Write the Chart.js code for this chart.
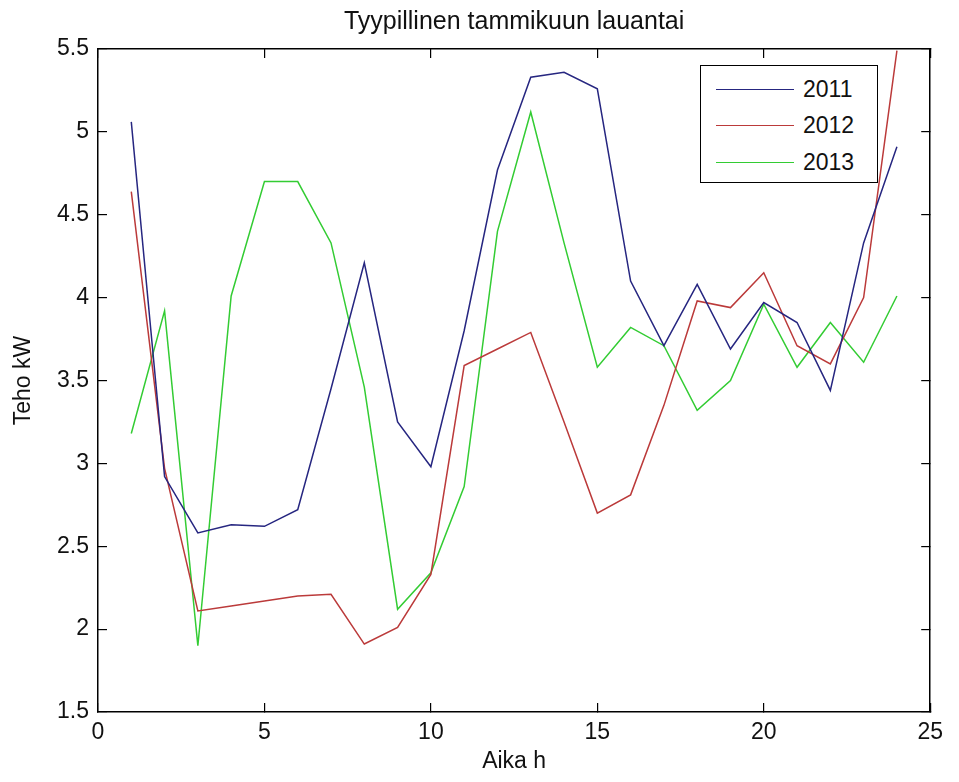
<!DOCTYPE html>
<html lang="fi">
<head>
<meta charset="utf-8">
<title>Tyypillinen tammikuun lauantai</title>
<script src="https://cdn.jsdelivr.net/npm/chart.js@4.4.0/dist/chart.umd.min.js"></script>
<style>
    body { margin: 0; background: #fff; }
    #wrap { position: relative; width: 959px; height: 782px; }
    #legend {
        position: absolute; left: 700px; top: 65px; width: 176px; height: 116px;
        border: 1.5px solid #000; background: #fff;
        font-family: "Liberation Sans", Arial, sans-serif; font-size: 23px; color: #111;
    }
    #legend .row { position: absolute; left: 0; height: 28px; display: flex; align-items: center; }
    #legend .swatch { display: inline-block; margin-left: 15px; width: 78px; height: 0; border-top: 1.5px solid; }
    #legend .label { margin-left: 9px; }
</style>
</head>
<body>
<div id="wrap">
    <canvas id="lineChart" width="959" height="782"></canvas>
    <div id="legend"></div>
</div>
<script>
    // Aika h (tunti)
    const hours = [1, 2, 3, 4, 5, 6, 7, 8, 9, 10, 11, 12, 13, 14, 15, 16, 17, 18, 19, 20, 21, 22, 23, 24];

    // Teho kW
    const teho2011 = [5.06, 2.92, 2.58, 2.63, 2.62, 2.72, 3.45, 4.21, 3.25, 2.98, 3.80, 4.77,
        5.33, 5.36, 5.26, 4.10, 3.71, 4.08, 3.69, 3.97, 3.85, 3.44, 4.33, 4.91];
    const teho2012 = [4.64, 2.97, 2.11, 2.14, 2.17, 2.20, 2.21, 1.91, 2.01, 2.33, 3.59, 3.69,
        3.79, 3.25, 2.70, 2.81, 3.35, 3.98, 3.94, 4.15, 3.71, 3.60, 4.00, 5.49];
    const teho2013 = [3.18, 3.92, 1.90, 4.01, 4.70, 4.70, 4.33, 3.46, 2.12, 2.34, 2.86, 4.40,
        5.12, 4.33, 3.58, 3.82, 3.71, 3.32, 3.50, 3.96, 3.58, 3.85, 3.61, 4.01];

    const years = ['2011', '2012', '2013'];
    const colors = ['#262680', '#bb3a3a', '#33cc33'];

    const xTicks = [0, 5, 10, 15, 20, 25];
    const yTicks = [1.5, 2, 2.5, 3, 3.5, 4, 4.5, 5, 5.5];

    const fontFamily = '"Liberation Sans", Arial, sans-serif';

    const series = [teho2011, teho2012, teho2013];
    const datasets = series.map((values, i) => ({
        label: years[i],
        data: values.map((v, j) => ({x: hours[j], y: v})),
        borderColor: colors[i],
        backgroundColor: colors[i],
        borderWidth: 1.5,
        pointRadius: 0,
        tension: 0,
        fill: false
    }));

    // matlab-style axis: ticks pointing inwards, black box
    const boxAxis = {
        grid: {drawOnChartArea: false, drawTicks: true, tickLength: -9, color: '#000', lineWidth: 1.2},
        border: {display: true, color: '#000', width: 1.5}
    };

    const ctx = document.getElementById('lineChart').getContext('2d');
    const chart = new Chart(ctx, {
        type: 'line',
        data: {datasets: datasets},
        options: {
            responsive: false,
            animation: false,
            layout: {padding: {left: 0, right: 18, top: 0, bottom: 0}},
            plugins: {
                legend: {display: false},
                tooltip: {enabled: false},
                title: {
                    display: true,
                    text: 'Tyypillinen tammikuun lauantai',
                    fullSize: false,
                    color: '#111',
                    font: {family: fontFamily, size: 25, weight: 'normal'},
                    padding: {top: 7, bottom: 12}
                }
            },
            scales: {
                x: {
                    type: 'linear',
                    position: 'bottom',
                    min: 0,
                    max: 25,
                    afterBuildTicks: s => { s.ticks = xTicks.map(v => ({value: v})); },
                    ticks: {color: '#111', padding: 16, font: {family: fontFamily, size: 23}, maxRotation: 0,
                        callback: v => String(v)},
                    title: {display: true, text: 'Aika h', color: '#111', font: {family: fontFamily, size: 23}, padding: {top: 0, bottom: 7}},
                    afterFit: s => { s.height = 70; },
                    ...boxAxis
                },
                x2: {
                    type: 'linear',
                    position: 'top',
                    min: 0,
                    max: 25,
                    afterBuildTicks: s => { s.ticks = xTicks.map(v => ({value: v})); },
                    ticks: {display: false},
                    afterFit: s => { s.height = 0; },
                    ...boxAxis
                },
                y: {
                    type: 'linear',
                    position: 'left',
                    min: 1.5,
                    max: 5.5,
                    afterBuildTicks: s => { s.ticks = yTicks.map(v => ({value: v})); },
                    ticks: {color: '#111', padding: 18, font: {family: fontFamily, size: 23},
                        callback: v => String(v)},
                    title: {display: true, text: 'Teho kW', color: '#111', font: {family: fontFamily, size: 23}, padding: {top: 10, bottom: 0}},
                    afterFit: s => { s.width = 98; },
                    ...boxAxis
                },
                y2: {
                    type: 'linear',
                    position: 'right',
                    min: 1.5,
                    max: 5.5,
                    afterBuildTicks: s => { s.ticks = yTicks.map(v => ({value: v})); },
                    ticks: {display: false},
                    afterFit: s => { s.width = 0; },
                    ...boxAxis
                }
            }
        }
    });

    // legend box inside the plot, like matlab
    const legend = document.getElementById('legend');
    chart.data.datasets.forEach((ds, i) => {
        const row = document.createElement('div');
        row.className = 'row';
        row.style.top = (9 + i * 36.5) + 'px';
        const swatch = document.createElement('span');
        swatch.className = 'swatch';
        swatch.style.borderColor = ds.borderColor;
        const label = document.createElement('span');
        label.className = 'label';
        label.textContent = ds.label;
        row.appendChild(swatch);
        row.appendChild(label);
        legend.appendChild(row);
    });
</script>
</body>
</html>
